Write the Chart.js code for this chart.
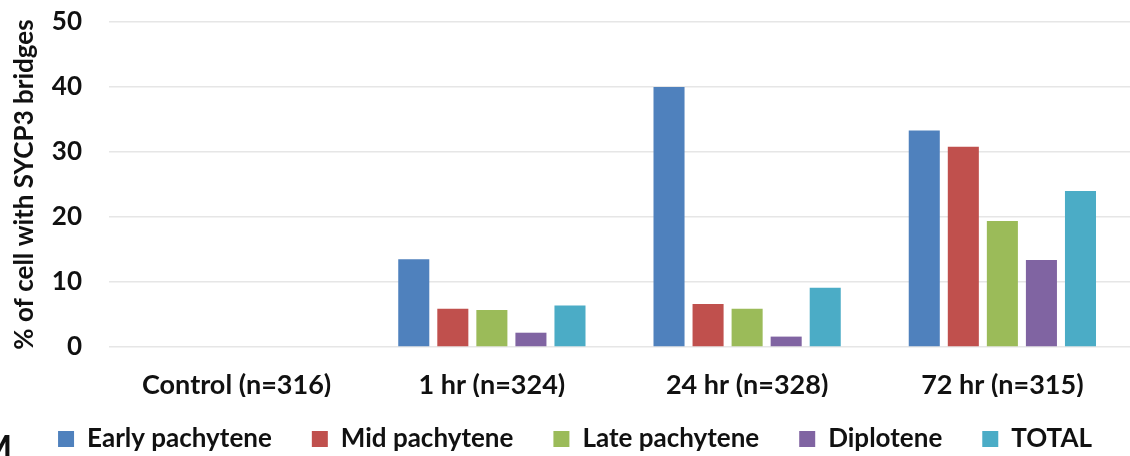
<!DOCTYPE html>
<html>
<head>
<meta charset="utf-8">
<script src="https://cdn.jsdelivr.net/npm/chart.js@4.4.1/dist/chart.umd.min.js"></script>
<style>
  html, body { margin: 0; padding: 0; background: #fff; }
  #wrap { width: 1130px; height: 456px; position: relative; }
</style>
</head>
<body>
<div id="wrap"><canvas id="myChart"></canvas></div>
<script>
// categories and series
const groups = ['Control (n=316)', '1 hr (n=324)', '24 hr (n=328)', '72 hr (n=315)'];
const earlyPachytene = [0, 13.5, 40.0, 33.3];
const midPachytene = [0, 5.9, 6.6, 30.8];
const latePachytene = [0, 5.7, 5.9, 19.4];
const diplotene = [0, 2.2, 1.6, 13.4];
const total = [0, 6.4, 9.1, 24.0];
const yTicks = [0, 10, 20, 30, 40, 50];

const fontFamily = "Lato, 'Open Sans', sans-serif";

let makeSet = (label, data, color) => ({
  label: label,
  data: data,
  backgroundColor: color,
  borderWidth: 0,
  categoryPercentage: 0.765,
  barPercentage: 0.795
});

// legend sits lower than chart.js would put it, under the x labels
const legendDrop = {
  id: 'legendDrop',
  afterLayout(chart) {
    const lg = chart.legend;
    lg.top = chart.chartArea.bottom + 39;
    lg.bottom = chart.height;
    lg.height = lg.bottom - lg.top;
    lg.left += 10;
    lg.right += 10;
  }
};

// the cut off panel letter in the lower left corner
const panelLetter = {
  id: 'panelLetter',
  afterDraw(chart) {
    const c = chart.ctx;
    c.save();
    c.fillStyle = '#111';
    c.font = "bold 34px " + fontFamily;
    c.textBaseline = 'alphabetic';
    c.fillText('M', -20, 460);
    c.restore();
  }
};

const ctx = document.getElementById('myChart');

const config = {
  type: 'bar',
  data: {
    labels: groups,
    datasets: [
      makeSet('Early pachytene', earlyPachytene, '#4F81BD'),
      makeSet('Mid pachytene', midPachytene, '#C0504D'),
      makeSet('Late pachytene', latePachytene, '#9BBB59'),
      makeSet('Diplotene', diplotene, '#8064A2'),
      makeSet('TOTAL', total, '#4BACC6')
    ]
  },
  options: {
    responsive: true,
    maintainAspectRatio: false,
    animation: false,
    layout: { padding: { top: 22, right: 0, left: 0, bottom: 0 } },
    plugins: {
      tooltip: { enabled: false },
      legend: {
        position: 'bottom',
        maxHeight: 59,
        labels: {
          boxWidth: 16,
          boxHeight: 16,
          padding: 40,
          color: '#111',
          font: { family: fontFamily, size: 26, weight: 'bold' }
        }
      }
    },
    scales: {
      x: {
        grid: { display: false },
        border: { display: false },
        afterFit: (scale) => { scale.height = 50; },
        ticks: {
          color: '#111',
          padding: 14,
          font: { family: fontFamily, size: 27, weight: 'bold' }
        }
      },
      y: {
        min: 0,
        max: 50,
        afterBuildTicks: (axis) => { axis.ticks = yTicks.map(v => ({ value: v })); },
        afterFit: (scale) => {
          scale.width = 109;
          scale.paddingTop = 0;
          scale.paddingBottom = 0;
        },
        grid: { color: '#e6e6e6', lineWidth: 1.5, drawTicks: false },
        border: { display: false },
        ticks: {
          color: '#111',
          padding: 27,
          font: { family: fontFamily, size: 26, weight: 'bold' }
        },
        title: {
          display: true,
          text: '% of cell with SYCP3 bridges',
          color: '#111',
          padding: { top: 9, bottom: 0 },
          font: { family: fontFamily, size: 26, weight: 'bold' }
        }
      }
    }
  },
  plugins: [legendDrop, panelLetter]
};

const chart = new Chart(ctx, config);
</script>
</body>
</html>
